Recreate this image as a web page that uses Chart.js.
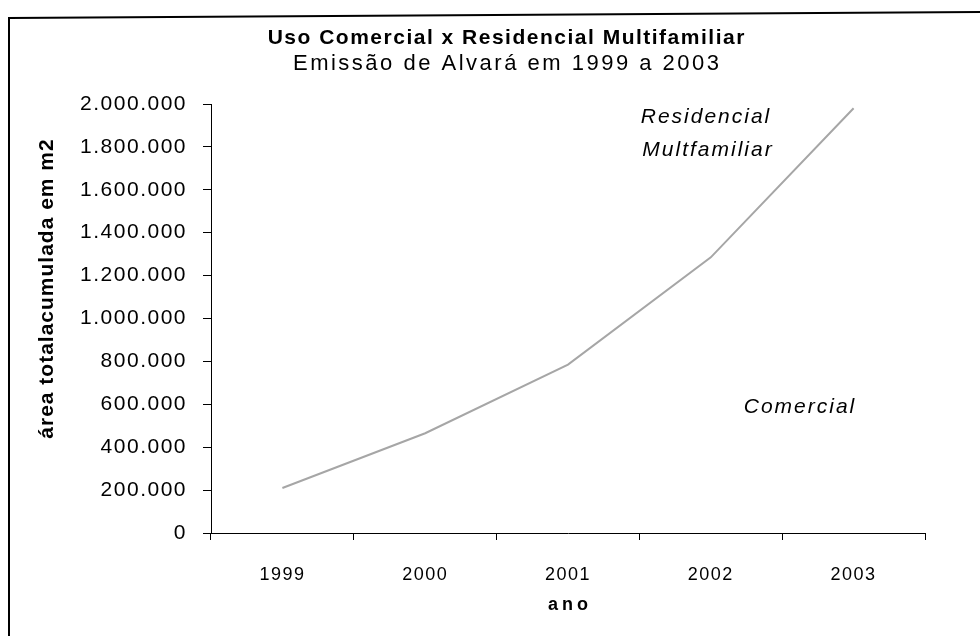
<!DOCTYPE html>
<html lang="pt">
<head>
<meta charset="utf-8">
<title>Uso Comercial x Residencial Multifamiliar</title>
<script src="https://cdn.jsdelivr.net/npm/chart.js@4/dist/chart.umd.min.js"></script>
<style>
  html, body { margin: 0; padding: 0; background: #fff; }
  canvas { display: block; }
</style>
</head>
<body>
<canvas id="grafico" width="980" height="636"></canvas>
<script>
// Anos de emissão de alvará
const anos = ['1999', '2000', '2001', '2002', '2003'];
// Área total acumulada (m²) – uso residencial multifamiliar
const residencialMultifamiliar = [210000, 465000, 785000, 1285000, 1980000];
// Eixo vertical
const eixoMin = 0;
const eixoMax = 2000000;
const eixoPasso = 200000;

const FONTE = '"Liberation Sans", Arial, Helvetica, sans-serif';

// Separador de milhar com ponto (2.000.000)
function formatarMilhar(v) {
  return String(Math.round(v)).replace(/\B(?=(\d{3})+(?!\d))/g, '.');
}

// Texto centrado com espaçamento próprio entre letras
function texto(ctx, str, x, y, font, spacing) {
  ctx.save();
  ctx.font = font;
  ctx.letterSpacing = spacing + 'px';
  ctx.fillText(str, x + spacing / 2, y);
  ctx.restore();
}

// Moldura, títulos, título dos eixos e rótulos das séries
const decoracao = {
  id: 'decoracao',
  beforeDraw(chart) {
    const ctx = chart.ctx;
    ctx.letterSpacing = '1.5px';
    ctx.save();
    ctx.strokeStyle = '#000';
    ctx.lineWidth = 2;
    ctx.beginPath();
    ctx.moveTo(9, 636);
    ctx.lineTo(9, 18);
    ctx.lineTo(980, 12);
    ctx.stroke();
    ctx.restore();
  },
  afterDraw(chart) {
    const ctx = chart.ctx;
    const area = chart.chartArea;
    ctx.save();
    ctx.fillStyle = '#000';
    ctx.textAlign = 'center';
    ctx.textBaseline = 'middle';

    texto(ctx, 'Uso Comercial x Residencial Multifamiliar', 506, 38, 'bold 21px ' + FONTE, 1.5);
    texto(ctx, 'Emissão de Alvará em 1999 a 2003', 506, 64, '22px ' + FONTE, 2.5);

    ctx.save();
    ctx.translate(47, 289);
    ctx.rotate(-Math.PI / 2);
    texto(ctx, 'área totalacumulada em m2', 0, 0, 'bold 21px ' + FONTE, 1);
    ctx.restore();

    texto(ctx, 'ano', (area.left + area.right) / 2, 605, 'bold 18px ' + FONTE, 4);

    texto(ctx, 'Residencial', 705, 117, 'italic 21px ' + FONTE, 2);
    texto(ctx, 'Multfamiliar', 707, 150, 'italic 21px ' + FONTE, 2);
    texto(ctx, 'Comercial', 799, 407, 'italic 21px ' + FONTE, 2);
    ctx.restore();
  }
};

new Chart(document.getElementById('grafico'), {
  type: 'line',
  data: {
    labels: anos,
    datasets: [{
      label: 'Residencial Multifamiliar',
      data: residencialMultifamiliar,
      borderColor: '#a6a6a6',
      borderWidth: 2,
      pointRadius: 0,
      tension: 0,
      fill: false
    }]
  },
  options: {
    responsive: false,
    animation: false,
    layout: { padding: { left: 0, right: 55, top: 104, bottom: 0 } },
    plugins: {
      legend: { display: false },
      tooltip: { enabled: false },
      title: { display: false },
      subtitle: { display: false }
    },
    scales: {
      x: {
        type: 'category',
        offset: true,
        grid: {
          offset: true,
          drawOnChartArea: false,
          drawTicks: true,
          tickLength: 7,
          color: '#000'
        },
        border: { display: true, color: '#000', width: 1 },
        ticks: {
          color: '#000',
          font: { family: FONTE, size: 18 },
          padding: 24,
          maxRotation: 0
        },
        afterFit(scale) { scale.height = 103; }
      },
      y: {
        min: eixoMin,
        max: eixoMax,
        grid: {
          drawOnChartArea: false,
          drawTicks: true,
          tickLength: 8,
          color: '#000'
        },
        border: { display: true, color: '#000', width: 1 },
        ticks: {
          stepSize: eixoPasso,
          color: '#000',
          font: { family: FONTE, size: 21 },
          padding: 16,
          callback: (v) => formatarMilhar(v)
        },
        afterFit(scale) { scale.width = 211; }
      }
    }
  },
  plugins: [decoracao]
});
</script>
</body>
</html>
